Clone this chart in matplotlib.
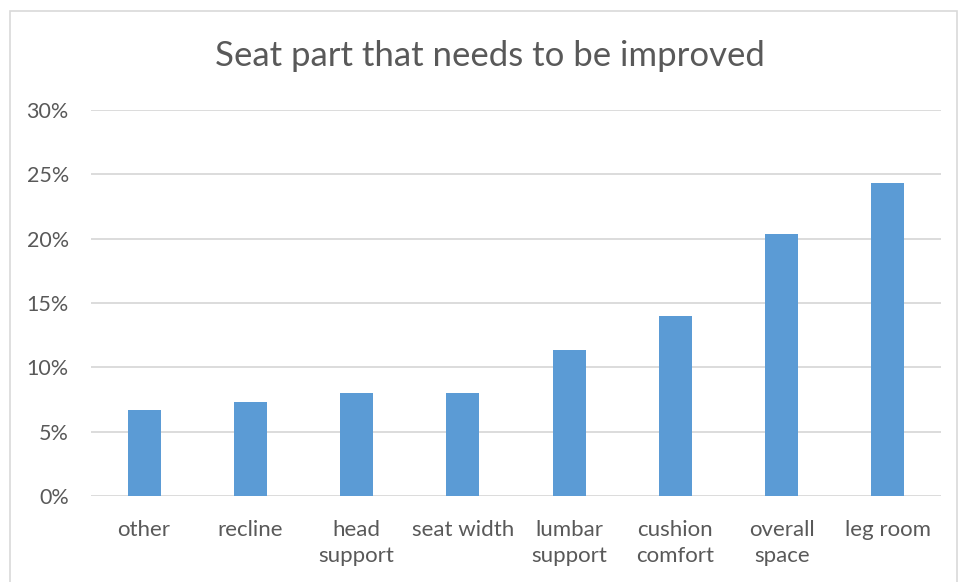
import matplotlib.pyplot as plt
import matplotlib.patches as ptc
from matplotlib.ticker import PercentFormatter

categories = ['other', 'recline', 'head\nsupport', 'seat width', 'lumbar\nsupport',
              'cushion\ncomfort', 'overall\nspace', 'leg room']
values = [0.0667, 0.0733, 0.0800, 0.0800, 0.1133, 0.1400, 0.2033, 0.2433]
yticks = [0, 0.05, 0.10, 0.15, 0.20, 0.25, 0.30]

plt.rcParams['font.family'] = ['Lato', 'DejaVu Sans']
text_col = '#595959'
grid_col = '#D9D9D9'

fig = plt.figure(figsize=(9.59, 5.82), dpi=100)
ax = fig.add_axes([91/959, 1-496/582, (941-91)/959, (496-110)/582])

# outer chart border
border = ptc.Rectangle((10/959, -0.05), (957-10)/959, (582-11)/582 + 0.05,
                       transform=fig.transFigure, fill=False,
                       edgecolor=grid_col, linewidth=1.2)
fig.patches.append(border)

x = range(len(categories))
ax.bar(x, values, width=0.31, color='#5B9BD5', zorder=3)

ax.set_xlim(-0.5, len(categories) - 0.5)
ax.set_ylim(0, 0.30)
ax.set_yticks(yticks)
ax.yaxis.set_major_formatter(PercentFormatter(1.0, decimals=0))
ax.set_xticks(list(x))
ax.set_xticklabels(categories, linespacing=1.4)

ax.grid(True, axis='y', color=grid_col, linewidth=1.3, zorder=0)
for s in ['right', 'top', 'left', 'bottom']:
    ax.spines[s].set_visible(False)
ax.tick_params(axis='both', length=0, colors=text_col)
ax.tick_params(axis='x', pad=17, labelsize=16)
ax.tick_params(axis='y', pad=16, labelsize=15.5)
for lbl in ax.get_xticklabels():
    lbl.set_verticalalignment('top')

fig.text(490/959, 1-56/582, 'Seat part that needs to be improved',
         ha='center', va='center', fontsize=25, color=text_col)

fig.savefig('out.png', dpi=100)
